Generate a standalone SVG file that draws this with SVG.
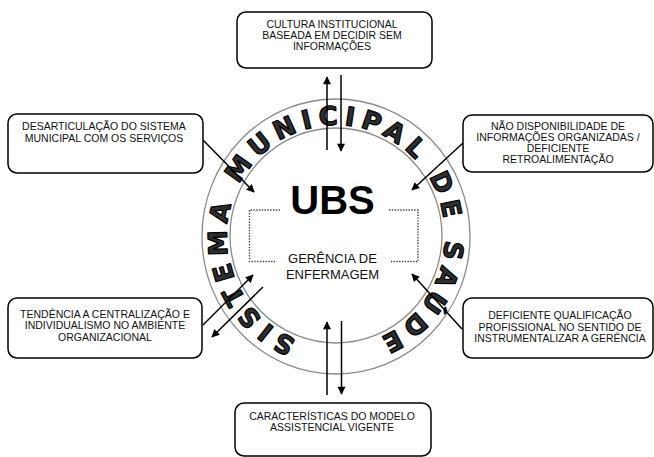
<svg xmlns="http://www.w3.org/2000/svg" width="654" height="457" viewBox="0 0 654 457">
<style>
.box{fill:#fff;stroke:#000;stroke-width:1.5}
.t{font-family:"Liberation Sans",Arial,sans-serif;font-size:10.5px;fill:#111;text-anchor:middle}
.ring{fill:none;stroke:#8a8a8a;stroke-width:1.3}
.arrow{stroke:#000;stroke-width:1.5;fill:none;marker-end:url(#ah)}
.dot{fill:none;stroke:#444;stroke-width:1.4;stroke-dasharray:1.4 1.4}
</style>
<defs>
<marker id="ah" markerUnits="userSpaceOnUse" viewBox="0 0 10 10" markerWidth="9" markerHeight="8" refX="9" refY="5" orient="auto">
<path d="M0,0 L10,5 L0,10 z" fill="#000"/>
</marker>
<path id="ringpath" d="M336,347 A109,111 0 1 1 336,125 A109,111 0 1 1 336,347"/>
</defs>
<rect width="654" height="457" fill="#fff"/>
<g id="ring">
<ellipse class="ring" cx="336" cy="236.5" rx="134" ry="137.5"/>
<ellipse class="ring" cx="336" cy="235.5" rx="106" ry="107.5"/>
<text font-family="DejaVu Sans,Verdana,sans-serif" font-weight="bold" font-size="26" letter-spacing="6" fill="#2e2e2e" stroke="#000" stroke-width="1.2" stroke-linejoin="round"><textPath href="#ringpath" startOffset="50%" text-anchor="middle">SISTEMA MUNICIPAL DE SAÚDE</textPath></text>
</g>
<g id="center">
<text x="332.5" y="214" font-family="Liberation Sans,Arial,sans-serif" font-weight="bold" font-size="40" text-anchor="middle" fill="#000">UBS</text>
<path class="dot" d="M280,210 H249.5 V261.5 H275"/>
<path class="dot" d="M389,210 H418 V261.5 H391"/>
<text class="t" style="font-size:13px" x="332.5" y="263">GERÊNCIA DE</text>
<text class="t" style="font-size:13px" x="332.5" y="279">ENFERMAGEM</text>
</g>
<g id="connectors">
<line class="arrow" x1="327" y1="150" x2="327" y2="77"/>
<line class="arrow" x1="341" y1="75" x2="341" y2="151"/>
<line class="arrow" x1="327" y1="395" x2="327" y2="322"/>
<line class="arrow" x1="341.5" y1="321" x2="341.5" y2="394"/>
<line class="arrow" x1="203" y1="140" x2="254" y2="192"/>
<line class="arrow" x1="463" y1="143" x2="412" y2="190"/>
<line class="arrow" x1="203" y1="325" x2="253" y2="275"/>
<line class="arrow" x1="263" y1="287" x2="212" y2="337"/>
<line class="arrow" x1="462" y1="329" x2="412" y2="274"/>
</g>
<g id="n-top">
<rect class="box" x="237" y="12" width="195" height="56" rx="9"/>
<text class="t" x="332" y="28">CULTURA INSTITUCIONAL</text>
<text class="t" x="332" y="39">BASEADA EM DECIDIR SEM</text>
<text class="t" x="332" y="50">INFORMAÇÕES</text>
</g>
<g id="n-topleft">
<rect class="box" x="8" y="114" width="195" height="59" rx="9"/>
<text class="t" x="104" y="130">DESARTICULAÇÃO DO SISTEMA</text>
<text class="t" x="104" y="141.5">MUNICIPAL COM OS SERVIÇOS</text>
</g>
<g id="n-topright">
<rect class="box" x="463" y="115" width="190" height="57" rx="9"/>
<text class="t" x="558" y="130">NÃO DISPONIBILIDADE DE</text>
<text class="t" x="558" y="141">INFORMAÇÕES ORGANIZADAS /</text>
<text class="t" x="558" y="152">DEFICIENTE</text>
<text class="t" x="558" y="163">RETROALIMENTAÇÃO</text>
</g>
<g id="n-bottomleft">
<rect class="box" x="8" y="298" width="194" height="60" rx="9"/>
<text class="t" x="105" y="318">TENDÊNCIA A CENTRALIZAÇÃO E</text>
<text class="t" x="105" y="329">INDIVIDUALISMO NO AMBIENTE</text>
<text class="t" x="105" y="340.5">ORGANIZACIONAL</text>
</g>
<g id="n-bottomright">
<rect class="box" x="463" y="298" width="190" height="60" rx="9"/>
<text class="t" x="560" y="319">DEFICIENTE QUALIFICAÇÃO</text>
<text class="t" x="560" y="330.5">PROFISSIONAL NO SENTIDO DE</text>
<text class="t" x="560" y="342">INSTRUMENTALIZAR A GERÊNCIA</text>
</g>
<g id="n-bottom">
<rect class="box" x="235" y="403" width="196" height="53" rx="9"/>
<text class="t" x="332" y="420">CARACTERÍSTICAS DO MODELO</text>
<text class="t" x="332" y="431">ASSISTENCIAL VIGENTE</text>
</g>
</svg>
